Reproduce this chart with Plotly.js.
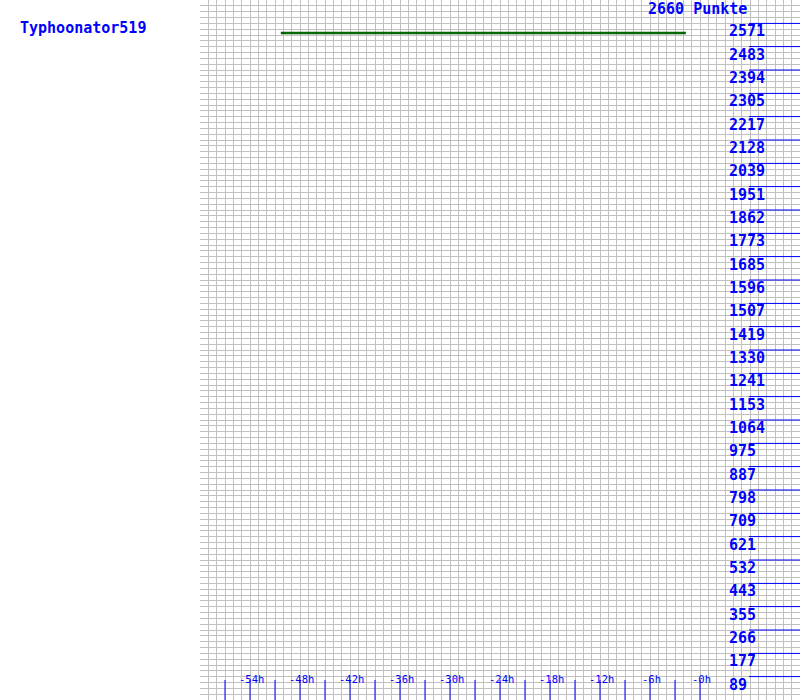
<!DOCTYPE html>
<html>
<head>
<meta charset="utf-8">
<script src="https://cdn.plot.ly/plotly-3.0.1.min.js"></script>
<style>
  html, body { margin: 0; padding: 0; background: #ffffff; }
  #chart { width: 800px; height: 700px; }
</style>
</head>
<body>
<div id="chart"></div>
<script>
// ---- data ----
const playerName = 'Typhoonator519';
const maxPoints = 2660;
const topLabel = '2660 Punkte';
const hours = [-50.3, -1.7];
const points = [2535, 2535];

const yTickVals = [89, 177, 266, 355, 443, 532, 621, 709, 798, 887, 975, 1064, 1153, 1241, 1330,
                   1419, 1507, 1596, 1685, 1773, 1862, 1951, 2039, 2128, 2217, 2305, 2394, 2483, 2571];
const yTickText = yTickVals.map(String);

const xTickVals = [-57, -54, -51, -48, -45, -42, -39, -36, -33, -30, -27, -24, -21, -18, -15, -12, -9, -6, -3, 0];
const xLabelVals = [-54, -48, -42, -36, -30, -24, -18, -12, -6, 0];
const xLabelText = ['-54h', '-48h', '-42h', '-36h', '-30h', '-24h', '-18h', '-12h', '-6h', '-0h'];

// ---- styling ----
const BLUE = '#0000ff';
const GRID = '#c0c0c0';
const MONO = '"DejaVu Sans Mono", "Liberation Mono", monospace';

const shapes = [];
yTickVals.forEach(v => shapes.push({
  type: 'line', xref: 'paper', yref: 'y',
  x0: 549 / 600, x1: 1, y0: v, y1: v,
  line: { color: BLUE, width: 1 }
}));
xTickVals.forEach(h => shapes.push({
  type: 'line', xref: 'x', yref: 'paper',
  ysizemode: 'pixel', yanchor: 0, y0: 0, y1: 20,
  x0: h, x1: h,
  line: { color: BLUE, width: 1 }
}));

const annotations = [];
yTickVals.forEach((v, i) => annotations.push({
  xref: 'paper', yref: 'y', x: 529 / 600, y: v,
  xanchor: 'left', yanchor: 'top', yshift: 1,
  text: '<b>' + yTickText[i] + '</b>', showarrow: false,
  borderpad: 0, borderwidth: 0,
  font: { family: MONO, size: 15, color: BLUE }
}));
xLabelVals.forEach((h, i) => annotations.push({
  xref: 'x', yref: 'paper', x: h, y: 0,
  xanchor: 'center', yanchor: 'middle', yshift: 21.5, xshift: 1,
  text: xLabelText[i], showarrow: false,
  borderpad: 0, borderwidth: 0,
  font: { family: MONO, size: 10.5, color: BLUE }
}));
annotations.push({
  xref: 'paper', yref: 'y', x: 547 / 600, y: maxPoints,
  xanchor: 'right', yanchor: 'top', yshift: 0,
  text: '<b>' + topLabel + '</b>', showarrow: false,
  borderpad: 0, borderwidth: 0,
  font: { family: MONO, size: 15, color: BLUE }
});

const data = [{
  type: 'scatter', mode: 'lines',
  x: hours, y: points,
  line: { color: '#006600', width: 2.5 },
  hoverinfo: 'skip'
}];

const layout = {
  width: 800, height: 700,
  margin: { l: 200, r: 0, t: 0, b: 0, pad: 0 },
  paper_bgcolor: '#ffffff', plot_bgcolor: '#ffffff',
  showlegend: false,
  title: {
    text: '<b>' + playerName + '</b>',
    xref: 'container', yref: 'container',
    x: 20 / 800, xanchor: 'left',
    y: 1 - 28 / 700, yanchor: 'middle',
    font: { family: MONO, size: 15, color: BLUE }
  },
  xaxis: {
    range: [-60, 12], tickmode: 'linear', tick0: -60, dtick: 1,
    showgrid: true, gridcolor: GRID, gridwidth: 1,
    zeroline: false, showline: false, ticks: '', showticklabels: false,
    fixedrange: true
  },
  yaxis: {
    range: [0, maxPoints], tickmode: 'linear', tick0: 0, dtick: maxPoints / 120,
    showgrid: true, gridcolor: GRID, gridwidth: 1,
    zeroline: false, showline: false, ticks: '', showticklabels: false,
    fixedrange: true
  },
  shapes: shapes,
  annotations: annotations
};

Plotly.newPlot('chart', data, layout, { displayModeBar: false, staticPlot: true });
</script>
</body>
</html>
